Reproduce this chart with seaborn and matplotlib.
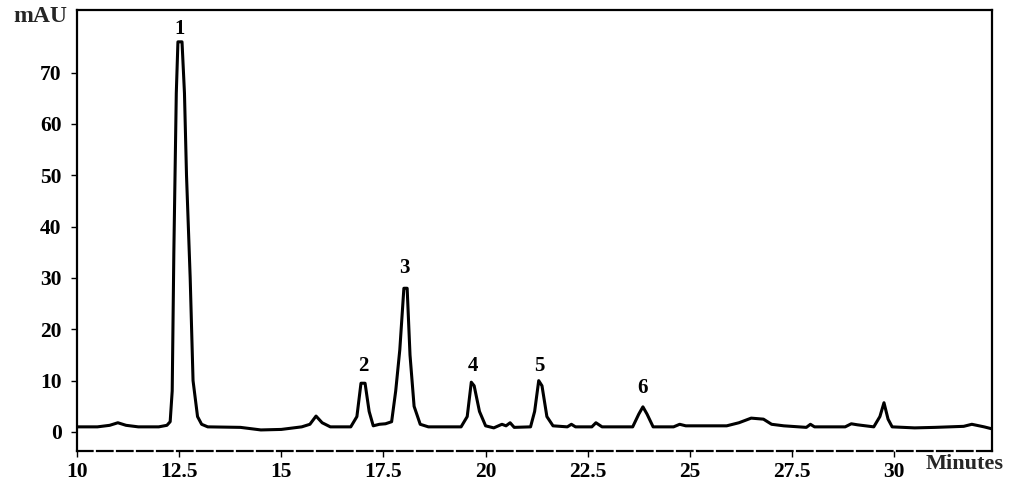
import pandas as pd
import seaborn as sns
import matplotlib.pyplot as plt

# chromatogram trace (retention time in minutes, absorbance in mAU)
time_min = [
    10.0, 10.5, 10.8, 11.0, 11.2, 11.5, 12.0, 12.2, 12.28, 12.33,
    12.37, 12.43, 12.47, 12.57, 12.63, 12.68, 12.77, 12.84, 12.95, 13.05,
    13.2, 14.0, 14.5, 15.0, 15.5, 15.7, 15.85, 16.0, 16.2, 16.7,
    16.85, 16.95, 17.05, 17.15, 17.25, 17.4, 17.55, 17.7, 17.8, 17.9,
    18.0, 18.08, 18.15, 18.25, 18.4, 18.6, 19.4, 19.55, 19.65, 19.72,
    19.85, 20.0, 20.2, 20.4, 20.5, 20.6, 20.7, 21.1, 21.2, 21.3,
    21.38, 21.5, 21.65, 22.0, 22.1, 22.2, 22.6, 22.7, 22.85, 23.6,
    23.75, 23.85, 23.95, 24.1, 24.6, 24.75, 24.9, 25.9, 26.2, 26.5,
    26.8, 27.0, 27.3, 27.85, 27.95, 28.05, 28.8, 28.95, 29.1, 29.5,
    29.65, 29.75, 29.85, 29.95, 30.5, 31.0, 31.7, 31.9, 32.2, 32.4,
]
mau = [
    1.0, 1.0, 1.3, 1.8, 1.3, 1.0, 1.0, 1.3, 2.0, 8.0,
    35.0, 66.0, 76.0, 76.0, 66.0, 50.0, 30.0, 10.0, 3.0, 1.5,
    1.0, 0.9, 0.4, 0.5, 1.0, 1.5, 3.1, 1.8, 1.0, 1.0,
    3.0, 9.5, 9.5, 4.0, 1.2, 1.5, 1.6, 2.0, 8.0, 16.0,
    28.0, 28.0, 15.0, 5.0, 1.5, 1.0, 1.0, 3.0, 9.7, 9.0,
    4.0, 1.2, 0.8, 1.5, 1.2, 1.8, 0.9, 1.0, 4.0, 10.0,
    9.0, 3.0, 1.2, 1.0, 1.5, 1.0, 1.0, 1.8, 1.0, 1.0,
    3.5, 4.9, 3.5, 1.0, 1.0, 1.5, 1.2, 1.2, 1.8, 2.7,
    2.5, 1.5, 1.2, 0.9, 1.5, 1.0, 1.0, 1.6, 1.4, 1.0,
    3.0, 5.7, 2.5, 1.0, 0.8, 0.9, 1.1, 1.5, 1.0, 0.6,
]

# numbered peaks
peak_labels = ["1", "2", "3", "4", "5", "6"]
peak_time = [12.52, 17.0, 18.0, 19.68, 21.32, 23.85]
peak_label_y = [78.5, 12.8, 32.0, 12.8, 12.9, 8.6]

x_ticks = [10, 12.5, 15, 17.5, 20, 22.5, 25, 27.5, 30]
x_tick_labels = ["10", "12.5", "15", "17.5", "20", "22.5", "25", "27.5", "30"]
y_ticks = [0, 10, 20, 30, 40, 50, 60, 70]

df = pd.DataFrame({"Minutes": time_min, "mAU": mau})

sns.set_style("ticks")
plt.rcParams['font.family'] = ['Liberation Serif', 'DejaVu Serif']

fig = plt.figure(figsize=(10.24, 4.91), dpi=100)
ax = fig.add_axes([0.0752, 0.0815, 0.8938, 0.8981])

sns.lineplot(data=df, x="Minutes", y="mAU", ax=ax, color="black",
             linewidth=2.2, estimator=None, sort=False)

for lab, t, yy in zip(peak_labels, peak_time, peak_label_y):
    ax.text(t, yy, lab, ha="center", va="center", fontsize=15,
            fontweight="bold", color="black")

ax.set_xlim(10, 32.4)
ax.set_ylim(-3.7, 82.2)
ax.set_xticks(x_ticks)
ax.set_xticklabels(x_tick_labels)
ax.set_yticks(y_ticks)
ax.tick_params(axis="both", direction="out", length=4, width=1,
               labelsize=15.5, colors="black")
ax.tick_params(axis="y", pad=7)
ax.tick_params(axis="x", pad=4)
for lab in ax.get_xticklabels() + ax.get_yticklabels():
    lab.set_fontweight("bold")

ax.set_xlabel("")
ax.set_ylabel("")
for side in ["top", "right", "left", "bottom"]:
    ax.spines[side].set_visible(True)
    ax.spines[side].set_color("black")
    ax.spines[side].set_linewidth(1.6)
ax.spines["bottom"].set_linestyle((0, (7, 2)))

fig.text(0.039, 0.966, "mAU", ha="center", va="center", fontsize=17,
         fontweight="bold")
fig.text(0.942, 0.055, "Minutes", ha="center", va="center", fontsize=16,
         fontweight="bold")

plt.savefig("out.png", dpi=100)
